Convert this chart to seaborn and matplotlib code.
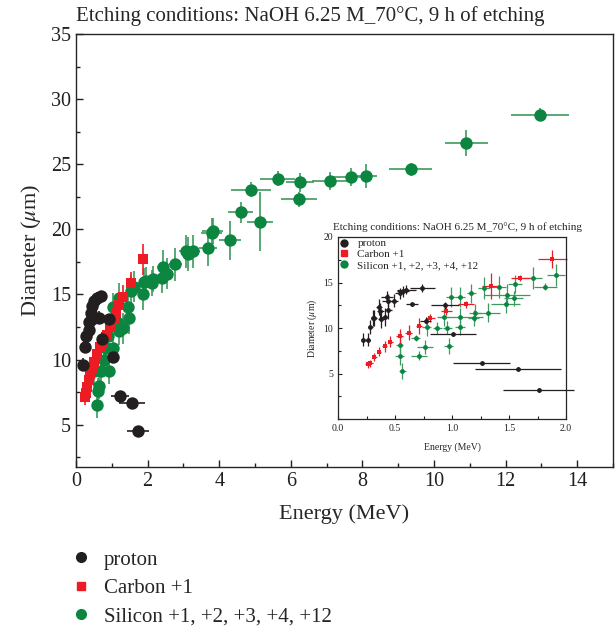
import matplotlib
matplotlib.use("Agg")
import matplotlib.pyplot as plt
from matplotlib.lines import Line2D
from matplotlib.ticker import MultipleLocator
import seaborn as sns
import pandas as pd

# ---------------- main plot data ----------------
main_p_x = [0.19, 0.26, 0.28, 0.35, 0.35, 0.42, 0.45, 0.45, 0.51, 0.60, 0.65, 0.70, 0.74, 0.93, 1.02, 1.24, 1.57, 1.74]
main_p_y = [9.6, 11.0, 11.8, 12.3, 12.9, 13.6, 13.1, 14.1, 14.5, 14.7, 13.2, 14.9, 11.6, 13.1, 10.2, 7.2, 6.7, 4.5]
main_p_xerr = [0.03, 0.03, 0.03, 0.04, 0.04, 0.04, 0.04, 0.05, 0.05, 0.06, 0.06, 0.06, 0.08, 0.10, 0.15, 0.25, 0.37, 0.31]
main_p_yerr = [0.5, 0.5, 0.5, 0.6, 0.6, 0.6, 0.6, 0.5, 0.5, 0.5, 0.5, 0.4, 0.5, 0.4, 0.4, 0.2, 0.2, 0.2]

main_c_x = [0.25, 0.28, 0.32, 0.36, 0.40, 0.45, 0.51, 0.58, 0.66, 0.76, 0.86, 0.95, 1.05, 1.12, 1.20, 1.30, 1.55, 1.88]
main_c_y = [7.1, 7.4, 7.9, 8.4, 8.9, 9.3, 9.8, 10.4, 11.0, 11.3, 11.9, 12.5, 13.1, 13.6, 14.2, 14.8, 15.9, 17.7]
main_c_xerr = [0.02, 0.02, 0.02, 0.02, 0.03, 0.03, 0.03, 0.03, 0.04, 0.04, 0.04, 0.05, 0.05, 0.05, 0.05, 0.06, 0.06, 0.08]
main_c_yerr = [0.6, 0.6, 0.6, 0.7, 0.7, 0.7, 0.7, 0.8, 0.8, 0.8, 0.8, 0.8, 0.9, 0.9, 0.9, 0.9, 0.8, 1.2]

main_s_x = [0.58, 0.62, 0.65, 0.51, 0.70, 0.93, 0.79, 0.84, 1.02, 0.88, 1.21, 1.30, 1.16, 1.49, 1.44, 1.02,
            1.21, 1.54, 1.63, 1.86, 1.90, 1.96, 2.11, 2.14, 2.39, 2.42, 2.53, 2.77, 3.07, 3.14, 3.26, 3.68,
            3.79, 3.82, 4.30, 4.60, 4.89, 5.14, 5.63, 6.23, 6.26, 7.10, 7.67, 8.10, 9.35, 10.90, 12.96]
main_s_y = [6.5, 7.6, 8.0, 9.1, 9.1, 9.1, 10.0, 10.9, 10.9, 11.8, 12.2, 12.4, 12.8, 13.2, 14.0, 14.0,
            14.7, 15.3, 15.6, 15.0, 15.95, 16.0, 15.9, 16.2, 16.3, 17.1, 16.6, 17.3, 18.3, 18.1, 18.3, 18.6,
            19.7, 19.9, 19.15, 21.3, 23.05, 20.6, 23.9, 22.3, 23.6, 23.7, 24.0, 24.1, 24.6, 26.6, 28.8]
main_s_xerr = [0.05, 0.05, 0.05, 0.05, 0.05, 0.06, 0.06, 0.06, 0.07, 0.06, 0.08, 0.08, 0.08, 0.10, 0.10, 0.07,
               0.08, 0.10, 0.10, 0.12, 0.12, 0.12, 0.14, 0.14, 0.15, 0.15, 0.16, 0.18, 0.20, 0.20, 0.20, 0.25,
               0.30, 0.30, 0.30, 0.35, 0.55, 0.35, 0.50, 0.50, 0.40, 0.50, 0.50, 0.30, 0.60, 0.60, 0.80]
main_s_yerr = [1.0, 1.0, 1.0, 1.1, 1.1, 1.0, 1.1, 1.1, 1.1, 1.1, 1.1, 1.2, 1.1, 1.2, 1.2, 1.1,
               1.2, 1.2, 1.2, 1.2, 1.1, 1.1, 1.0, 1.0, 1.2, 1.3, 1.2, 1.3, 1.3, 1.3, 1.3, 1.4,
               1.2, 1.0, 1.5, 0.8, 0.6, 2.3, 0.6, 0.6, 0.7, 0.7, 0.7, 0.9, 0.5, 1.0, 0.5]

# ---------------- inset data ----------------
ins_p_x = [0.22, 0.26, 0.285, 0.31, 0.32, 0.36, 0.37, 0.38, 0.41, 0.43, 0.435, 0.44, 0.49, 0.54, 0.57, 0.60,
           0.65, 0.74, 0.77, 0.94, 1.01, 1.26, 1.58, 1.76]
ins_p_y = [8.7, 8.7, 10.1, 11.1, 11.1, 12.3, 11.9, 11.0, 11.2, 13.4, 13.0, 12.0, 13.0, 13.8, 14.05, 14.2,
           12.6, 14.4, 10.8, 12.5, 9.3, 6.1, 5.5, 3.2]
ins_p_xerr = [0.02, 0.02, 0.02, 0.02, 0.02, 0.03, 0.03, 0.03, 0.03, 0.05, 0.05, 0.03, 0.04, 0.04, 0.05, 0.08,
              0.05, 0.11, 0.05, 0.12, 0.20, 0.25, 0.38, 0.31]
ins_p_yerr = [0.7, 0.7, 0.8, 0.9, 0.9, 0.9, 0.9, 1.0, 1.0, 0.7, 0.7, 1.0, 0.7, 0.6, 0.6, 0.5,
              0.2, 0.4, 0.4, 0.4, 0.2, 0.2, 0.2, 0.2]

ins_c_x = [0.26, 0.285, 0.32, 0.36, 0.41, 0.46, 0.54, 0.62, 0.71, 0.81, 0.95, 1.12, 1.34, 1.60, 1.88]
ins_c_y = [6.0, 6.1, 6.8, 7.4, 8.0, 8.5, 9.1, 9.5, 10.2, 11.1, 11.9, 12.6, 14.6, 15.5, 17.6]
ins_c_xerr = [0.02, 0.02, 0.02, 0.02, 0.02, 0.02, 0.03, 0.03, 0.03, 0.04, 0.05, 0.07, 0.08, 0.08, 0.13]
ins_c_yerr = [0.4, 0.4, 0.4, 0.5, 0.6, 0.6, 0.8, 0.8, 0.9, 0.4, 0.5, 0.4, 1.4, 0.3, 1.0]

ins_s_x = [0.54, 0.54, 0.565, 0.68, 0.71, 0.765, 0.78, 0.87, 0.93, 0.96, 0.97, 0.99, 1.07, 1.07, 1.07, 1.17,
           1.19, 1.20, 1.28, 1.32, 1.41, 1.47, 1.48, 1.54, 1.55, 1.71, 1.82, 1.91]
ins_s_y = [8.1, 6.97, 5.25, 8.9, 6.97, 7.9, 10.1, 10.0, 11.2, 10.05, 8.0, 13.45, 13.4, 11.25, 10.15, 13.8,
           11.1, 11.7, 14.4, 11.7, 14.55, 12.6, 13.6, 13.25, 14.8, 15.5, 14.55, 15.8]
ins_s_xerr = [0.03, 0.04, 0.03, 0.04, 0.07, 0.07, 0.04, 0.04, 0.04, 0.04, 0.04, 0.04, 0.04, 0.20, 0.04, 0.04,
              0.05, 0.05, 0.05, 0.10, 0.06, 0.13, 0.20, 0.08, 0.06, 0.08, 0.10, 0.08]
ins_s_yerr = [1.0, 1.0, 0.9, 0.3, 0.5, 0.8, 1.0, 0.7, 1.0, 0.7, 0.9, 1.1, 1.1, 1.0, 0.9, 1.0,
              0.9, 0.9, 1.2, 1.0, 1.2, 1.0, 1.2, 0.8, 1.0, 1.2, 0.4, 1.2]

labels = ["proton", "Carbon +1", "Silicon +1, +2, +3, +4, +12"]
title_text = "Etching conditions: NaOH 6.25 M_70°C, 9 h of etching"

BLACK = "#231f20"
RED = "#ed1c24"
GREEN = "#0b8540"
GREEN_ERR = "#3d9a5e"

sns.set_style("ticks")
plt.rcParams["font.family"] = ["Liberation Serif", "DejaVu Serif"]
plt.rcParams["mathtext.fontset"] = "stix"
plt.rcParams["axes.linewidth"] = 1.0

fig = plt.figure(figsize=(6.15, 6.29), dpi=100)
ax = fig.add_axes([76 / 615, 1 - 467 / 629, (613 - 76) / 615, (467 - 34) / 629])

def draw(axis, xs, ys, xe, ye, color, ecolor, marker, size, elw, clip=True):
    axis.errorbar(xs, ys, xerr=xe, yerr=ye, fmt="none", ecolor=ecolor, elinewidth=elw,
                  capsize=0, zorder=2, clip_on=clip)
    df = pd.DataFrame({"x": xs, "y": ys})
    sns.scatterplot(data=df, x="x", y="y", ax=axis, color=color, marker=marker, s=size,
                    edgecolor=color, linewidth=0, zorder=3, clip_on=clip, legend=False)

draw(ax, main_s_x, main_s_y, main_s_xerr, main_s_yerr, GREEN, GREEN_ERR, "o", 80, 1.2)
draw(ax, main_c_x, main_c_y, main_c_xerr, main_c_yerr, RED, RED, "s", 55, 1.2)
draw(ax, main_p_x, main_p_y, main_p_xerr, main_p_yerr, BLACK, BLACK, "o", 80, 1.2)

ax.set_xlim(0, 15)
ax.set_ylim(1.75, 35)
ax.xaxis.set_major_locator(MultipleLocator(2))
ax.xaxis.set_minor_locator(MultipleLocator(1))
ax.yaxis.set_major_locator(MultipleLocator(5))
ax.yaxis.set_minor_locator(MultipleLocator(2.5))
ax.tick_params(which="both", direction="in", top=False, right=False, labelsize=14.5, colors="#231f20")
ax.tick_params(which="major", length=5, width=1.0)
ax.tick_params(which="minor", length=3, width=1.0)
ax.set_xlabel("Energy (MeV)", fontsize=16, labelpad=10)
ax.set_ylabel(r"Diameter ($\mu$m)", fontsize=16, labelpad=6)
ax.set_title(title_text, loc="left", fontsize=15, pad=9)
for sp in ax.spines.values():
    sp.set_visible(True)

# bottom legend
handles = [
    Line2D([], [], ls="none", marker="o", color=BLACK, markersize=7),
    Line2D([], [], ls="none", marker="s", color=RED, markersize=6),
    Line2D([], [], ls="none", marker="o", color=GREEN, markersize=7),
]
fig.legend(handles, labels, loc="upper left", bbox_to_anchor=(0.098, 0.142), frameon=False,
           fontsize=15, handlelength=1.0, handletextpad=0.6, labelspacing=0.42, borderpad=0)

# inset
ins = fig.add_axes([338 / 615, 1 - 419 / 629, (566 - 338) / 615, (419 - 237) / 629])
draw(ins, ins_s_x, ins_s_y, ins_s_xerr, ins_s_yerr, GREEN, GREEN_ERR, "o", 12, 0.9, clip=False)
draw(ins, ins_c_x, ins_c_y, ins_c_xerr, ins_c_yerr, RED, RED, "s", 10, 0.9, clip=False)
draw(ins, ins_p_x, ins_p_y, ins_p_xerr, ins_p_yerr, BLACK, BLACK, "o", 12, 0.9, clip=False)
ins.set_xlim(0, 2.0)
ins.set_ylim(0, 20)
ins.xaxis.set_major_locator(MultipleLocator(0.5))
ins.xaxis.set_minor_locator(MultipleLocator(0.25))
ins.set_yticks([5, 10, 15, 20])
ins.yaxis.set_minor_locator(MultipleLocator(2.5))
ins.xaxis.set_major_formatter(matplotlib.ticker.FormatStrFormatter("%.1f"))
ins.tick_params(which="both", direction="in", top=False, right=False, labelsize=7, colors="#231f20")
ins.tick_params(which="major", length=3, width=0.8)
ins.tick_params(which="minor", length=2, width=0.8)
for sp in ins.spines.values():
    sp.set_visible(True)
    sp.set_linewidth(0.9)
ins.set_xlabel("Energy (MeV)", fontsize=7, labelpad=7)
ins.set_ylabel(r"Diameter ($\mu$m)", fontsize=7, labelpad=3)
ins.set_title(title_text, fontsize=8, pad=5, x=0.525)
ih = [
    Line2D([], [], ls="none", marker="o", color=BLACK, markersize=5),
    Line2D([], [], ls="none", marker="s", color=RED, markersize=4.5),
    Line2D([], [], ls="none", marker="o", color=GREEN, markersize=5),
]
ins.legend(ih, labels, loc="upper left", bbox_to_anchor=(0, 1), frameon=False, fontsize=8,
           handlelength=0.8, handletextpad=0.8, labelspacing=0.1, borderpad=0.15, borderaxespad=0)

fig.savefig("out.png", dpi=100)
